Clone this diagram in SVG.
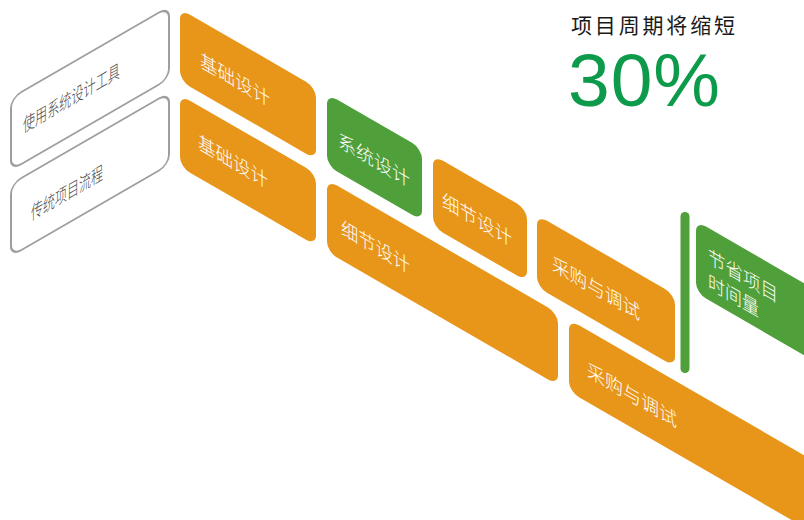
<svg xmlns="http://www.w3.org/2000/svg" width="804" height="520" viewBox="0 0 804 520">
<style>
.o{fill:#E8961A}
.g{fill:#4FA03A}
.gr{fill:#fff;stroke:#9E9E9E;stroke-width:2}
.t{font-family:"Noto Sans CJK SC","Noto Sans",sans-serif;font-weight:300;fill:#fff;font-size:19px}
.tg{font-family:"Noto Sans CJK SC","Noto Sans",sans-serif;font-weight:300;fill:#4a4a4a;font-size:19px}
.head{font-family:"Noto Sans CJK SC","Noto Sans",sans-serif;fill:#1a1a1a;font-size:21px}
.pct{font-family:"Liberation Sans",Arial,sans-serif;fill:#0D9B4B;font-size:75px}
</style>
<rect width="804" height="520" fill="#fff"/>
<g id="label-tools" transform="translate(11,98) skewY(-30)">
<rect class="gr" width="158" height="72" rx="10"/>
<text class="tg" x="12" y="42" textLength="97" lengthAdjust="spacingAndGlyphs">使用系统设计工具</text>
</g>
<g id="label-traditional" transform="translate(11,184) skewY(-30)">
<rect class="gr" width="158" height="72" rx="10"/>
<text class="tg" x="20" y="48" textLength="72" lengthAdjust="spacingAndGlyphs">传统项目流程</text>
</g>
<g id="a-basic" transform="translate(180,8.9) skewY(30)">
<rect class="o" width="136" height="72" rx="10"/>
<text class="t" x="20" y="46" textLength="70" lengthAdjust="spacingAndGlyphs">基础设计</text>
</g>
<g id="a-system" transform="translate(327,93.8) skewY(30)">
<rect class="g" width="95" height="72" rx="10"/>
<text class="t" x="11" y="46" textLength="72" lengthAdjust="spacingAndGlyphs">系统设计</text>
</g>
<g id="a-detail" transform="translate(433,155) skewY(30)">
<rect class="o" width="94" height="72" rx="10"/>
<text class="t" x="9" y="46" textLength="70" lengthAdjust="spacingAndGlyphs">细节设计</text>
</g>
<g id="a-purchase" transform="translate(537,215) skewY(30)">
<rect class="o" width="138" height="72" rx="10"/>
<text class="t" x="15" y="46" textLength="88" lengthAdjust="spacingAndGlyphs">采购与调试</text>
</g>
<g id="b-basic" transform="translate(180,94.9) skewY(30)">
<rect class="o" width="136" height="72" rx="10"/>
<text class="t" x="18" y="43" textLength="70" lengthAdjust="spacingAndGlyphs">基础设计</text>
</g>
<g id="b-detail" transform="translate(327,179.8) skewY(30)">
<rect class="o" width="231" height="72" rx="10"/>
<text class="t" x="14" y="46" textLength="69" lengthAdjust="spacingAndGlyphs">细节设计</text>
</g>
<g id="b-purchase" transform="translate(569,319.5) skewY(30)">
<rect class="o" width="270" height="72" rx="10"/>
<text class="t" x="18" y="46" textLength="90" lengthAdjust="spacingAndGlyphs">采购与调试</text>
</g>
<g id="connectors">
<rect class="g" x="680.5" y="212" width="9" height="161" rx="4.5"/>
</g>
<g id="saved" transform="translate(696,220.8) skewY(30)">
<rect class="g" width="140" height="72" rx="10"/>
<text class="t" x="12" y="35" textLength="70" lengthAdjust="spacingAndGlyphs">节省项目</text>
<text class="t" x="12" y="60" textLength="51" lengthAdjust="spacingAndGlyphs">时间量</text>
</g>
<g id="headline">
<text class="head" x="571" y="33" textLength="164" lengthAdjust="spacing">项目周期将缩短</text>
<text class="pct" x="568" y="106" textLength="152">30%</text>
</g>
</svg>
